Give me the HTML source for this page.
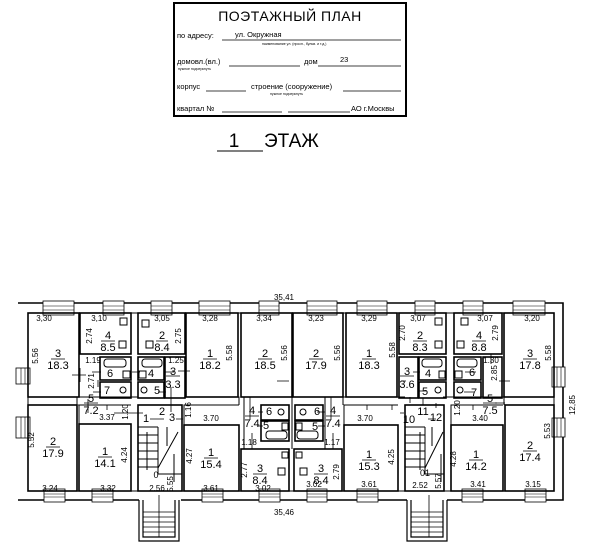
<!DOCTYPE html>
<html><head><meta charset="utf-8"><style>
html,body{margin:0;padding:0;background:#fff;}
svg{display:block;font-family:"Liberation Sans",sans-serif;}
.d{font-size:8px;}
.n{font-size:11px;}
</style></head><body>
<svg width="602" height="553" viewBox="0 0 602 553" xmlns="http://www.w3.org/2000/svg">
<rect x="174" y="3" width="232" height="113" fill="none" stroke="#000" stroke-width="2"/>
<text x="290" y="21" font-size="14" text-anchor="middle" letter-spacing="0.5">ПОЭТАЖНЫЙ ПЛАН</text>
<g font-size="7.5">
<text x="177" y="38">по адресу:</text><text x="235" y="37">ул. Окружная</text>
<line x1="222" y1="40" x2="401" y2="40" stroke="#000" stroke-width="0.8"/>
<text x="262" y="45" font-size="3.5">наименование ул. (просп., бульв. и т.д.)</text>
<text x="177" y="64">домовл.(вл.)</text><line x1="229" y1="66" x2="300" y2="66" stroke="#000" stroke-width="0.8"/>
<text x="304" y="64">дом</text><text x="340" y="62">23</text><line x1="318" y1="66" x2="401" y2="66" stroke="#000" stroke-width="0.8"/>
<text x="178" y="70" font-size="3.5">нужное подчеркнуть</text>
<text x="177" y="89">корпус</text><line x1="206" y1="91" x2="246" y2="91" stroke="#000" stroke-width="0.8"/>
<text x="251" y="89">строение (сооружение)</text><line x1="343" y1="91" x2="401" y2="91" stroke="#000" stroke-width="0.8"/>
<text x="270" y="95" font-size="3.5">нужное подчеркнуть</text>
<text x="177" y="111">квартал №</text><line x1="222" y1="112" x2="282" y2="112" stroke="#000" stroke-width="0.8"/>
<line x1="288" y1="112" x2="350" y2="112" stroke="#000" stroke-width="0.8"/><text x="351" y="111">АО г.Москвы</text>
</g>
<text x="234" y="147" font-size="19" text-anchor="middle">1</text>
<text x="264" y="147" font-size="19">ЭТАЖ</text>
<line x1="217" y1="151" x2="263" y2="151" stroke="#000" stroke-width="1"/>

<text x="284" y="300" class="d" text-anchor="middle">35,41</text>
<text x="284" y="515" class="d" text-anchor="middle">35,46</text>
<text x="575" y="405" class="d" text-anchor="middle" transform="rotate(-90 575 405)">12,85</text>

<g fill="none" stroke="#000">
<path d="M18,303 H563 V500 H447 M407,500 H181 M139,500 H18 Z" stroke-width="1.6"/>
<rect x="28" y="313" width="526" height="178" stroke-width="1"/>
<path d="M139,500 V541 H179 V500 M143,500 V537 H175 V500" stroke-width="1.2"/>
<path d="M407,500 V541 H447 V500 M411,500 V537 H443 V500" stroke-width="1.2"/>
</g>
<g stroke="#000" stroke-width="0.8">
<line x1="143" y1="512" x2="175" y2="512"/><line x1="143" y1="517" x2="175" y2="517"/><line x1="143" y1="522" x2="175" y2="522"/><line x1="143" y1="527" x2="175" y2="527"/><line x1="143" y1="532" x2="175" y2="532"/>
<line x1="159" y1="495" x2="159" y2="537"/>
<line x1="411" y1="512" x2="443" y2="512"/><line x1="411" y1="517" x2="443" y2="517"/><line x1="411" y1="522" x2="443" y2="522"/><line x1="411" y1="527" x2="443" y2="527"/><line x1="411" y1="532" x2="443" y2="532"/>
<line x1="429" y1="495" x2="429" y2="537"/>
</g>
<g fill="#fff" stroke="#000" stroke-width="0.8">
<rect x="43" y="301" width="31" height="14"/><rect x="103" y="301" width="21" height="14"/><rect x="151" y="301" width="21" height="14"/><rect x="199" y="301" width="31" height="14"/><rect x="259" y="301" width="20" height="14"/>
<rect x="307" y="301" width="30" height="14"/><rect x="357" y="301" width="30" height="14"/><rect x="415" y="301" width="20" height="14"/><rect x="463" y="301" width="20" height="14"/><rect x="513" y="301" width="32" height="14"/>
<rect x="44" y="489" width="21" height="13"/><rect x="92" y="489" width="21" height="13"/><rect x="202" y="489" width="21" height="13"/><rect x="259" y="489" width="21" height="13"/>
<rect x="307" y="489" width="20" height="13"/><rect x="357" y="489" width="21" height="13"/><rect x="462" y="489" width="21" height="13"/><rect x="525" y="489" width="21" height="13"/>
<rect x="16" y="368" width="14" height="16"/><rect x="16" y="417" width="14" height="21"/>
<rect x="552" y="367" width="13" height="20"/><rect x="552" y="418" width="13" height="19"/>
</g>
<g stroke="#000" stroke-width="0.6">
<path d="M43,306H74M43,310H74M103,306H124M103,310H124M151,306H172M151,310H172M199,306H230M199,310H230M259,306H279M259,310H279M307,306H337M307,310H337M357,306H387M357,310H387M415,306H435M415,310H435M463,306H483M463,310H483M513,306H545M513,310H545"/>
<path d="M44,494H65M44,497H65M92,494H113M92,497H113M202,494H223M202,497H223M259,494H280M259,497H280M307,494H327M307,497H327M357,494H378M357,497H378M462,494H483M462,497H483M525,494H546M525,497H546"/>
<path d="M21,368V384M25,368V384M21,417V438M25,417V438M557,367V387M561,367V387M557,418V437M561,418V437"/>
</g>

<g fill="none" stroke="#000" stroke-width="1.6">
<rect x="28" y="313" width="51" height="84"/>
<rect x="80" y="313" width="51" height="41"/>
<rect x="100" y="357" width="31" height="23"/>
<rect x="100" y="382" width="31" height="16"/>
<rect x="28" y="405" width="49" height="86"/>
<rect x="79" y="424" width="52" height="67"/>
<rect x="138" y="405" width="44" height="86"/>
<rect x="138" y="313" width="47" height="41"/>
<rect x="138" y="357" width="26" height="23"/>
<rect x="138" y="382" width="26" height="16"/>
<rect x="165" y="357" width="20" height="41"/>
<rect x="186" y="313" width="52" height="84"/>
<rect x="241" y="313" width="51" height="84"/>
<rect x="184" y="425" width="55" height="66"/>
<rect x="261" y="405" width="28" height="15"/>
<rect x="261" y="421" width="28" height="20"/>
<rect x="241" y="449" width="48" height="42"/>
<rect x="295" y="405" width="28" height="15"/>
<rect x="295" y="421" width="28" height="20"/>
<rect x="294" y="449" width="48" height="42"/>
<rect x="293" y="313" width="50" height="84"/>
<rect x="346" y="313" width="51" height="84"/>
<rect x="344" y="425" width="54" height="66"/>
<rect x="399" y="313" width="47" height="41"/>
<rect x="399" y="357" width="19" height="41"/>
<rect x="419" y="357" width="27" height="23"/>
<rect x="419" y="382" width="27" height="16"/>
<rect x="405" y="405" width="39" height="86"/>
<rect x="454" y="313" width="48" height="41"/>
<rect x="454" y="357" width="27" height="23"/>
<rect x="454" y="382" width="27" height="16"/>
<rect x="483" y="357" width="19" height="41"/>
<rect x="504" y="313" width="50" height="84"/>
<rect x="505" y="405" width="49" height="86"/>
<rect x="451" y="425" width="52" height="66"/>
</g>
<g fill="none" stroke="#000" stroke-width="1">
<path d="M77,405V397H138M185,397H239V405M244,397V449M292,397V449M325,397V449M343,405V397H405M443,397H504V405"/>
<path d="M79,424V405H131M184,425V405H239M344,425V405H398M451,425V405H503"/>
<path d="M138,427H158M138,435H158M138,443H158M138,451H158M138,459H158M138,467H158M158,427V474H182"/>
<path d="M405,427H425M405,435H425M405,443H425M405,451H425M405,459H425M405,467H425M425,427V474H444"/>
<path d="M158,468L178,432M425,468L443,432"/>
<path d="M147,470V432M167,427V446M174,482V454M420,470V432M432,427V446M441,482V454"/>
<rect x="104" y="359" width="22" height="8" rx="3"/><rect x="142" y="359" width="20" height="8" rx="3"/>
<rect x="422" y="359" width="20" height="8" rx="3"/><rect x="457" y="359" width="20" height="8" rx="3"/>
<rect x="266" y="431" width="21" height="8" rx="3"/><rect x="297" y="431" width="21" height="8" rx="3"/>
<rect x="123" y="371" width="7" height="7"/><rect x="139" y="371" width="7" height="7"/><rect x="439" y="371" width="6" height="7"/><rect x="455" y="371" width="7" height="7"/>
<rect x="119" y="341" width="7" height="7"/><rect x="146" y="341" width="7" height="7"/><rect x="435" y="341" width="7" height="7"/><rect x="457" y="341" width="7" height="7"/>
<rect x="120" y="318" width="7" height="7"/><rect x="142" y="320" width="7" height="7"/><rect x="435" y="318" width="7" height="7"/><rect x="461" y="318" width="7" height="7"/>
<rect x="282" y="423" width="6" height="7"/><rect x="296" y="423" width="6" height="7"/><rect x="282" y="452" width="6" height="6"/><rect x="296" y="452" width="6" height="6"/>
<rect x="278" y="468" width="7" height="7"/><rect x="300" y="468" width="7" height="7"/>
<circle cx="123" cy="390" r="3"/><circle cx="144" cy="390" r="3"/><circle cx="438" cy="390" r="3"/><circle cx="460" cy="390" r="3"/>
<circle cx="281" cy="412" r="3"/><circle cx="303" cy="412" r="3"/>
</g>

<g class="d" text-anchor="middle">
<text x="44" y="321">3,30</text><text x="99" y="321">3,10</text><text x="162" y="321">3,05</text><text x="210" y="321">3,28</text><text x="264" y="321">3,34</text>
<text x="316" y="321">3,23</text><text x="369" y="321">3,29</text><text x="418" y="321">3,07</text><text x="485" y="321">3,07</text><text x="532" y="321">3,20</text>
<text x="93" y="363">1.19</text><text x="176" y="363">1.25</text><text x="491" y="363">1.30</text>
<text x="107" y="420">3.37</text><text x="211" y="421">3.70</text><text x="365" y="421">3.70</text><text x="480" y="421">3.40</text>
<text x="249" y="445">1.18</text><text x="332" y="445">1.17</text>
<text x="50" y="491">3.24</text><text x="108" y="491">3.32</text><text x="157" y="491">2.56</text><text x="211" y="491">3.61</text><text x="263" y="491">3.02</text>
<text x="314" y="487">3.02</text><text x="369" y="487">3.61</text><text x="420" y="488">2.52</text><text x="478" y="487">3.41</text><text x="533" y="487">3.15</text>
</g>
<g class="d" text-anchor="middle">
<text transform="translate(38,356) rotate(-90)">5.56</text><text transform="translate(92,336) rotate(-90)">2.74</text><text transform="translate(94,381) rotate(-90)">2.71</text>
<text transform="translate(128,412) rotate(-90)">1.20</text><text transform="translate(34,440) rotate(-90)">5.52</text><text transform="translate(127,455) rotate(-90)">4.24</text>
<text transform="translate(181,336) rotate(-90)">2.75</text><text transform="translate(191,410) rotate(-90)">1.16</text><text transform="translate(173,484) rotate(-90)">5.55</text>
<text transform="translate(232,353) rotate(-90)">5.58</text><text transform="translate(287,353) rotate(-90)">5.56</text><text transform="translate(192,456) rotate(-90)">4.27</text>
<text transform="translate(247,470) rotate(-90)">2.77</text><text transform="translate(339,472) rotate(-90)">2.79</text>
<text transform="translate(340,353) rotate(-90)">5.56</text><text transform="translate(395,350) rotate(-90)">5.58</text><text transform="translate(394,457) rotate(-90)">4.25</text>
<text transform="translate(405,333) rotate(-90)">2.70</text><text transform="translate(498,333) rotate(-90)">2.79</text><text transform="translate(497,373) rotate(-90)">2.85</text>
<text transform="translate(460,408) rotate(-90)">1.20</text><text transform="translate(441,481) rotate(-90)">5.57</text><text transform="translate(456,459) rotate(-90)">4.28</text>
<text transform="translate(551,353) rotate(-90)">5.58</text><text transform="translate(550,431) rotate(-90)">5.53</text>
</g>
<g class="n" text-anchor="middle">
<text x="58" y="357">3</text><text x="58" y="369">18.3</text>
<text x="108" y="339">4</text><text x="108" y="351">8.5</text>
<text x="162" y="339">2</text><text x="162" y="351">8.4</text>
<text x="210" y="357">1</text><text x="210" y="369">18.2</text>
<text x="265" y="357">2</text><text x="265" y="369">18.5</text>
<text x="316" y="357">2</text><text x="316" y="369">17.9</text>
<text x="369" y="357">1</text><text x="369" y="369">18.3</text>
<text x="420" y="339">2</text><text x="420" y="351">8.3</text>
<text x="479" y="339">4</text><text x="479" y="351">8.8</text>
<text x="530" y="357">3</text><text x="530" y="369">17.8</text>
<text x="110" y="377">6</text><text x="107" y="394">7</text><text x="151" y="377">4</text><text x="157" y="394">5</text>
<text x="173" y="375">3</text><text x="173" y="388">3.3</text>
<text x="407" y="375">3</text><text x="407" y="388">3.6</text><text x="428" y="377">4</text><text x="425" y="395">5</text>
<text x="472" y="376">6</text><text x="474" y="396">7</text>
<text x="91" y="402">5</text><text x="91" y="414">7.2</text>
<text x="490" y="402">5</text><text x="490" y="414">7.5</text>
<text x="146" y="422">1</text><text x="162" y="415">2</text><text x="172" y="421">3</text>
<text x="409" y="423">10</text><text x="423" y="415">11</text><text x="436" y="421">12</text>
<text x="252" y="414">4</text><text x="252" y="427">7.4</text><text x="269" y="415">6</text><text x="266" y="429">5</text>
<text x="333" y="414">4</text><text x="333" y="427">7.4</text><text x="317" y="415">6</text><text x="315" y="430">5</text>
<text x="53" y="445">2</text><text x="53" y="457">17.9</text>
<text x="105" y="455">1</text><text x="105" y="467">14.1</text>
<text x="211" y="456">1</text><text x="211" y="468">15.4</text>
<text x="260" y="472">3</text><text x="260" y="484">8.4</text>
<text x="321" y="472">3</text><text x="321" y="484">8.4</text>
<text x="369" y="458">1</text><text x="369" y="470">15.3</text>
<text x="476" y="458">1</text><text x="476" y="470">14.2</text>
<text x="530" y="449">2</text><text x="530" y="461">17.4</text>
<text x="156" y="478" font-size="9">0</text><text x="425" y="476" font-size="9">01</text>
</g>
<g stroke="#000" stroke-width="0.8">
<path d="M51,359H65M101,341H115M156,341H168M203,359H217M258,359H272M309,359H323M362,359H376M413,341H427M472,341H486M523,359H537"/>
<path d="M166,376H180M400,376H414M84,403H98M483,403H497M245,416H259M326,416H340"/>
<path d="M46,447H60M98,457H112M204,458H218M253,474H267M314,474H328M362,460H376M469,460H483M523,451H537"/>
</g>
<g stroke="#000" stroke-width="0.8">
<path d="M72,375H86M80,368V382M98,380V387M92,372H101M93,392H101M132,372H140M165,372H174M158,392H166M178,371H190M171,387V412"/>
<path d="M78,405H95M88,399V413M107,405V410M114,413H143M150,419H164M176,419H183M250,397V420M258,412H263M258,426H263M252,433V449"/>
<path d="M331,397V420M325,412H317M325,426H318M333,433V449M367,405V410M392,405V410M400,413H404M428,419H436M436,408V403M473,405V410M495,403H505M410,397V403M423,398V405"/>
<path d="M277,381H289M401,381H406M499,381H510M465,372H476M464,392H474M413,372H420M418,391H426M491,354V364"/>
</g>
</svg>
</body></html>
